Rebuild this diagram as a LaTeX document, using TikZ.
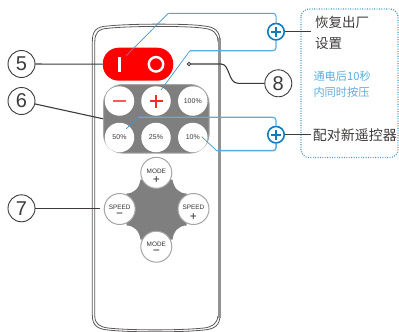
\documentclass[tikz,border=0pt]{standalone}
\usepackage{fontspec}
\setmainfont{Noto Sans}
\newfontfamily\cjk{Noto Sans CJK SC}
\newfontfamily\numf{Liberation Sans}
\usetikzlibrary{calc}
\definecolor{bluel}{HTML}{5AAEDD}
\definecolor{blued}{HTML}{0F7CC0}
\definecolor{panel}{HTML}{7F7F7F}
\definecolor{ink}{HTML}{3E3A39}
\definecolor{redk}{HTML}{FF0000}
\tikzset{
 callout/.style={circle,draw=ink,line width=.9pt,minimum size=27pt,inner sep=0pt,font=\numf\fontsize{20}{20}\selectfont\color{ink}},
 plusnode/.style={circle,draw=blued,line width=1.6pt,fill=white,minimum size=16.5pt,inner sep=0pt},
 btn/.style={circle,draw=none,fill=white,minimum size=29.5pt,inner sep=0pt,font=\numf\fontsize{7}{7}\selectfont\color{ink}},
 kbtn/.style={circle,draw=panel!70,line width=1pt,fill=white,minimum size=31pt,inner sep=0pt},
 ktxt/.style={inner sep=0pt,font=\numf\fontsize{6.4}{6.4}\selectfont\color{ink!80!black}},
 ksign/.style={inner sep=0pt,font=\numf\fontsize{12}{12}\selectfont\color{ink!80!black}},
 blk/.style={ink,line width=1.1pt},
 bline/.style={bluel,line width=1pt,rounded corners=3pt},
 bthin/.style={blued!80,line width=.7pt},
 lab/.style={inner sep=0pt,anchor=west,font=\cjk\fontsize{13.5}{13.5}\selectfont\color{ink}},
 labb/.style={inner sep=0pt,anchor=west,font=\cjk\fontsize{11.2}{11.2}\selectfont\color{bluel}}
}
\begin{document}
\begin{tikzpicture}[x=1pt,y=-1pt]
\useasboundingbox (0,0) rectangle (399,332);
% remote body
\draw[ink!85,line width=.8pt] (92.3,315) -- (92.3,42) .. controls (92.3,31) and (96,26.5) .. (108,26) .. controls (130,23.5) and (190,23.5) .. (204,26) .. controls (215,27) and (220,31) .. (220,42) -- (220,315) .. controls (220,326) and (214,329) .. (204,330) .. controls (180,332.5) and (130,332.5) .. (108,330) .. controls (98,329) and (92.3,326) .. (92.3,315);
\draw[ink!85,line width=.8pt] (94.8,316) -- (94.8,42) .. controls (94.8,33) and (98,28.8) .. (108,28.3) .. controls (130,25.8) and (190,25.8) .. (204,28.3) .. controls (213,29.3) and (218,33) .. (218,42);
\draw[ink!85,line width=.8pt] (94.8,316) .. controls (94.8,324) and (100,327) .. (108,328) .. controls (130,330.5) and (180,330.5) .. (204,328) .. controls (212,327) and (217,324) .. (218,316);
\draw[panel!85,line width=3pt] (219,38) -- (219,318);
% red switch
\node[draw=none,fill=redk,rounded corners=16pt,minimum width=70.5pt,minimum height=33pt,inner sep=0pt] (sw) at (138,64.2) {};
\fill[white] (118.3,56.7) rectangle (121.2,72);
\node[circle,draw=white,line width=2.4pt,minimum size=14.5pt,inner sep=0pt] (off) at (156,64.3) {};
\coordinate (on) at (126,56);
% panel
\node[draw=panel!70,fill=panel,line width=1pt,rounded corners=19pt,minimum width=105.5pt,minimum height=68.5pt,inner sep=0pt] (pan) at (156.3,118.8) {};
\node[btn] (minus) at (119.5,101) {};
\node[btn] (plusb) at (156,101) {};
\node[btn] (b100) at (192.8,101) {100\%};
\node[btn] (b50) at (119.5,137.5) {50\%};
\node[btn] (b25) at (156,137.5) {25\%};
\node[btn] (b10) at (192.8,137.5) {10\%};
\draw[redk!65,line width=1.1pt] (113,101) -- (126,101);
\draw[redk!85,line width=1.1pt] (149.5,101) -- (162.5,101) (156,94.5) -- (156,107.5);
% cross
\fill[panel] (172.5,179.5) .. controls (173.5,187.5) and (178.5,193.5) .. (186.5,193.5) -- (186.5,225.5) .. controls (178.5,225.5) and (173.5,231.5) .. (172.5,239.5) -- (140.5,239.5) .. controls (139.5,231.5) and (134.5,225.5) .. (126.5,225.5) -- (126.5,193.5) .. controls (134.5,193.5) and (139.5,187.5) .. (140.5,179.5) -- cycle;
\node[kbtn] (mp) at (156.3,172.8) {};
\node[kbtn] (sm) at (119.7,209) {};
\node[kbtn] (sp) at (193.5,209) {};
\node[kbtn] (mm) at (156.3,246.7) {};
\node[ktxt] (mpt) at (156.3,170.8) {MODE};
\node[ksign] (mps) at (156.3,179.8) {+};
\node[ktxt] (smt) at (119.7,207.3) {SPEED};
\node[ksign] (sms) at (119.7,215) {−};
\node[ktxt] (spt) at (193.5,207.3) {SPEED};
\node[ksign] (sps) at (193.5,216.7) {+};
\node[ktxt] (mmt) at (156.3,244) {MODE};
\node[ksign] (mms) at (156.3,252.5) {−};
% callouts
\node[callout] (c5) at (21.5,64) {5};
\node[callout] (c6) at (21.5,101) {6};
\node[callout] (c7) at (21.5,208.3) {7};
\node[callout] (c8) at (278.3,83.3) {8};
\coordinate (e7) at (100,208.3);
\draw[blk] (c5) -- (sw.west);
\draw[blk] (c6) -- (pan.west);
\draw[blk] (c7) -- (e7);
\node[circle,draw=ink,line width=.8pt,fill=white,minimum size=3.5pt,inner sep=0pt] (dot) at (189,64) {};
\draw[blk] (dot) -- (221,64) .. controls (230,64) and (228,83.3) .. (238,83.3) -- (c8);
% plus nodes
\node[plusnode] (p1) at (276,31.7) {};
\node[plusnode] (p2) at (276,134.7) {};
\foreach \n in {p1,p2}{\draw[blued,line width=1.6pt] ($(\n)+(-5,0)$) -- ($(\n)+(5,0)$) ($(\n)+(0,-5)$) -- ($(\n)+(0,5)$);}
% blue wires
\coordinate (a1) at (168.3,13.3); \coordinate (a2) at (276,13.3);
\draw[bthin] (on) -- (a1);
\draw[bline,blued!70] (a1) -- (a2) -- (p1.north);
\coordinate (a3) at (190,50.7); \coordinate (a4) at (276,50.7);
\coordinate (pb) at (161,90);
\draw[bthin] (pb) -- (a3);
\draw[bline,line width=1.2pt] (a3) -- (a4) -- (p1.south);
\coordinate (a5) at (138.3,117.3); \coordinate (a6) at (276,117.3);
\coordinate (b5) at (126,129);
\draw[bthin] (b5) -- (a5);
\draw[bline,line width=1.2pt] (a5) -- (a6) -- (p2.north);
\coordinate (a7) at (216.7,150.7); \coordinate (a8) at (276,150.7);
\coordinate (b1) at (201.7,136.7);
\draw[bthin] (b1) -- (a7);
\draw[bline,line width=1.5pt] (a7) -- (a8) -- (p2.south);
% dotted box
\draw[blued!80,line width=1.2pt,dash pattern=on .9pt off 1.5pt,rounded corners=8pt] (301,9) rectangle (398,157.5);
\coordinate (t1) at (310.7,31.7);
\coordinate (t2) at (310.7,134.7);
\draw[blk] (p1) -- (t1);
\draw[blk] (p2) -- (t2);
% texts
\node[lab] (x1) at (315,22.3) {恢复出厂};
\node[lab] (x2) at (315,43.3) {设置};
\node[labb] (x3) at (313.3,76) {通电后10秒};
\node[labb] (x4) at (313.3,92) {内同时按压};
\node[lab,font=\cjk\fontsize{14}{14}\selectfont\color{ink}] (x5) at (312.7,134.7) {配对新遥控器};
\end{tikzpicture}
\end{document}
